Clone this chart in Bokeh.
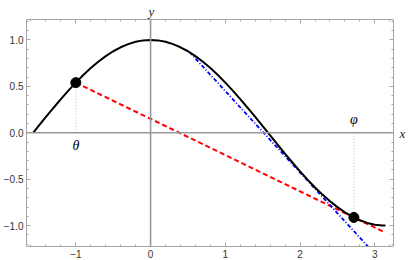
from bokeh.plotting import figure
from bokeh.models import LinearAxis, Span, Label, FixedTicker, CustomJSTickFormatter
from bokeh.embed import file_html
from bokeh.resources import INLINE

# curve y = cos(x)
curve_x = [-1.5708, -1.5, -1.4, -1.3, -1.2, -1.1, -1.0, -0.9, -0.8, -0.7, -0.6, -0.5, -0.4, -0.3, -0.2, -0.1,
           0.0, 0.1, 0.2, 0.3, 0.4, 0.5, 0.6, 0.7, 0.8, 0.9, 1.0, 1.1, 1.2, 1.3, 1.4, 1.5, 1.6, 1.7, 1.8, 1.9,
           2.0, 2.1, 2.2, 2.3, 2.4, 2.5, 2.6, 2.7, 2.8, 2.9, 3.0, 3.1, 3.1416]
curve_y = [0.000, 0.071, 0.170, 0.267, 0.362, 0.454, 0.540, 0.622, 0.697, 0.765, 0.825, 0.878, 0.921, 0.955, 0.980, 0.995,
           1.000, 0.995, 0.980, 0.955, 0.921, 0.878, 0.825, 0.765, 0.697, 0.622, 0.540, 0.454, 0.362, 0.267, 0.170, 0.071,
           -0.029, -0.129, -0.227, -0.323, -0.416, -0.505, -0.589, -0.666, -0.737, -0.801, -0.857, -0.904, -0.942, -0.971,
           -0.990, -0.999, -1.000]

# marked points (theta, phi)
pts_x = [-1.0, 2.72]
pts_y = [0.540, -0.912]
pt_labels = ["θ", "φ"]
pt_label_y = [-0.134, 0.145]

# red dashed secant
red_x = [-1.0, 3.12]
red_y = [0.540, -1.068]

# blue dash-dot line
blue_x = [0.52, 2.92]
blue_y = [0.870, -1.235]

x_ticks = [-1, 0, 1, 2, 3]
y_ticks = [-1.0, -0.5, 0.0, 0.5, 1.0]
y_tick_labels = {-1.0: "\u22121.0", -0.5: "\u22120.5", 0.0: "0.0", 0.5: "0.5", 1.0: "1.0"}
x_tick_labels = {-1: "\u22121", 0: "0", 1: "1", 2: "2", 3: "3"}
x_minor = [round(-1.6 + 0.2 * i, 2) for i in range(25)]
y_minor = [round(-1.2 + 0.1 * i, 2) for i in range(25)]

p = figure(width=409, height=260, x_range=(-1.66, 3.25), y_range=(-1.225, 1.22),
           output_backend="svg", toolbar_location=None,
           min_border_left=23, min_border_right=16, min_border_top=19, min_border_bottom=13)
p.grid.visible = False
p.outline_line_color = None
p.background_fill_color = "white"
p.border_fill_color = "white"

frame_col = "#a6a6a6"
lab_col = "#333333"

def style_axis(ax, ticks, minor, labels=None):
    ax.ticker = FixedTicker(ticks=ticks, minor_ticks=minor)
    ax.axis_line_color = frame_col
    ax.major_tick_line_color = frame_col
    ax.minor_tick_line_color = frame_col
    ax.major_tick_in = 4
    ax.major_tick_out = 0
    ax.minor_tick_in = 2
    ax.minor_tick_out = 0
    if labels is not None:
        ax.major_label_overrides = labels
        ax.major_label_text_font = "Liberation Sans"
        ax.major_label_text_font_size = "10px"
        ax.major_label_text_color = lab_col
        ax.major_label_standoff = 3
    else:
        ax.formatter = CustomJSTickFormatter(code="return ''")
        ax.major_label_standoff = 0

for ax in p.xaxis:
    style_axis(ax, x_ticks, x_minor, x_tick_labels)
for ax in p.yaxis:
    style_axis(ax, y_ticks, y_minor, y_tick_labels)

top = LinearAxis()
style_axis(top, x_ticks, x_minor)
p.add_layout(top, "above")
right = LinearAxis()
style_axis(right, y_ticks, y_minor)
# "x" axis name sits at the right, level with y = 0 (the frame's middle)
right.axis_label = "x"
right.axis_label_orientation = "horizontal"
right.axis_label_standoff = 6
right.axis_label_text_font = "Liberation Serif"
right.axis_label_text_font_style = "italic"
right.axis_label_text_font_size = "13px"
right.axis_label_text_color = "#222222"
p.add_layout(right, "right")

# "y" axis name above the frame, over x = 0
p.title.text = "y"
p.title.align = "left"
p.title.offset = 122
p.title.text_font = "Liberation Serif"
p.title.text_font_style = "italic"
p.title.text_font_size = "13px"
p.title.text_color = "#222222"
p.title.standoff = 2

# axes through origin
p.add_layout(Span(location=0, dimension="width", line_color="#999999", line_width=1.6))
p.add_layout(Span(location=0, dimension="height", line_color="#999999", line_width=1.6))

# green dotted drop lines
for xv, yv in zip(pts_x, pts_y):
    p.line([xv, xv], [0, yv], line_color="#86e486", line_width=1, line_dash="1 2")

p.line(red_x, red_y, line_color="#ff0000", line_width=2, line_dash="5 3")
p.line(blue_x, blue_y, line_color="#0000ff", line_width=1.8, line_dash="4 2 1 2")
p.line(curve_x, curve_y, line_color="black", line_width=2)
p.scatter(pts_x, pts_y, size=10, fill_color="black", line_color="black")

# point labels
for xv, yv, t in zip(pts_x, pt_label_y, pt_labels):
    p.add_layout(Label(x=xv, y=yv, text=t, text_font="Liberation Serif", text_font_style="italic",
                       text_font_size="14px", text_align="center", text_baseline="middle", text_color="black"))

open("out.html", "w").write(file_html(p, INLINE))
